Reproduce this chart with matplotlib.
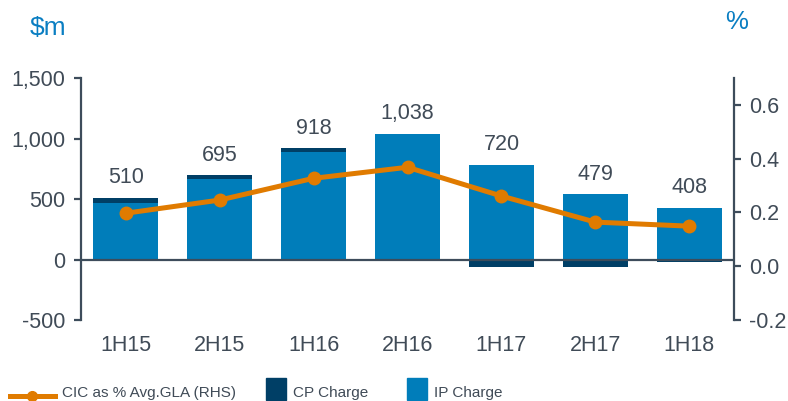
import matplotlib
matplotlib.use("Agg")
import matplotlib.pyplot as plt
from matplotlib.lines import Line2D
from matplotlib.patches import Rectangle
from matplotlib.ticker import FuncFormatter, FixedLocator

plt.rcParams['font.family'] = ['Liberation Sans', 'DejaVu Sans']

# Half-year periods
periods = ["1H15", "2H15", "1H16", "2H16", "1H17", "2H17", "1H18"]
# Total capitalised interest ($m), shown above each bar
totals = [510, 695, 918, 1038, 720, 479, 408]
# CP charge component ($m)
cp_charge = [45, 33, 33, 0, -60, -60, -18]
# IP charge component ($m)
ip_charge = [465, 662, 885, 1038, 780, 539, 426]
# CIC as % of average GLA (right-hand scale)
cic_pct = [0.197, 0.246, 0.327, 0.368, 0.261, 0.164, 0.149]

left_ticks = [-500, 0, 500, 1000, 1500]
right_ticks = [-0.2, 0.0, 0.2, 0.4, 0.6]

IP_BLUE = "#007DBA"
CP_NAVY = "#003F66"
ORANGE = "#E07B00"
AXIS = "#3D4C5B"
TEXT = "#404B57"
TITLE_BLUE = "#0A7EC2"

FS = 15.5

fig = plt.figure(figsize=(7.88, 4.01), dpi=100)
ax = fig.add_axes([81 / 788, 1 - 320 / 401, (734 - 81) / 788, (320 - 78) / 401])

x = list(range(len(periods)))
width = 0.69

ax.bar(x, ip_charge, width, color=IP_BLUE, zorder=2)
cp_bottom = [ip if cp > 0 else 0 for ip, cp in zip(ip_charge, cp_charge)]
ax.bar(x, cp_charge, width, bottom=cp_bottom, color=CP_NAVY, zorder=2)

ax.axhline(0, color=AXIS, lw=1.6, zorder=3)

for xi, ip, cp, tot in zip(x, ip_charge, cp_charge, totals):
    top = ip + max(cp, 0)
    ax.annotate(f"{tot:,}", (xi, top), xytext=(0, 7), textcoords="offset points",
                ha="center", va="bottom", fontsize=FS, color=TEXT)

ax.set_xlim(-0.475, len(periods) - 0.525)
ax.set_ylim(-500, 1500)
ax.yaxis.set_major_locator(FixedLocator(left_ticks))
ax.yaxis.set_major_formatter(FuncFormatter(lambda v, p: f"{int(v):,}"))
ax.set_xticks(x)
ax.set_xticklabels(periods)
ax.tick_params(axis="x", length=0, pad=11, labelsize=FS, labelcolor=TEXT)
ax.tick_params(axis="y", length=5, width=1.6, color=AXIS, pad=6,
               labelsize=FS, labelcolor=TEXT)
for side in ("top", "right", "bottom"):
    ax.spines[side].set_visible(False)
ax.spines["left"].set_color(AXIS)
ax.spines["left"].set_linewidth(1.6)

ax2 = ax.twinx()
ax2.plot(x, cic_pct, color=ORANGE, lw=3.6, marker="o", markersize=9,
         solid_capstyle="round", zorder=4)
ax2.set_ylim(-0.2, 0.7)
ax2.yaxis.set_major_locator(FixedLocator(right_ticks))
ax2.yaxis.set_major_formatter(FuncFormatter(lambda v, p: f"{v:.1f}"))
ax2.tick_params(axis="y", length=5, width=1.6, color=AXIS, pad=6,
                labelsize=FS, labelcolor=TEXT)
for side in ("top", "left", "bottom"):
    ax2.spines[side].set_visible(False)
ax2.spines["right"].set_color(AXIS)
ax2.spines["right"].set_linewidth(1.6)

# Axis unit captions
fig.text(30 / 788, 1 - 28 / 401, "$m", fontsize=19, color=TITLE_BLUE,
         ha="left", va="center")
fig.text(737 / 788, 1 - 22 / 401, "%", fontsize=18.5, color=TITLE_BLUE,
         ha="center", va="center")

# Legend along the bottom edge
ly = 1 - 396 / 401
fig.add_artist(Line2D([10 / 788, 55 / 788], [ly, ly], color=ORANGE, lw=3.6,
                      transform=fig.transFigure))
fig.add_artist(Line2D([32 / 788], [ly], color=ORANGE, marker="o", markersize=7,
                      transform=fig.transFigure))
fig.add_artist(Rectangle((266 / 788, 1 - 400 / 401), 20 / 788, 22 / 401,
                         color=CP_NAVY, transform=fig.transFigure))
fig.add_artist(Rectangle((407 / 788, 1 - 400 / 401), 20 / 788, 22 / 401,
                         color=IP_BLUE, transform=fig.transFigure))
for tx, label in [(62, "CIC as % Avg.GLA (RHS)"), (293, "CP Charge"), (434, "IP Charge")]:
    fig.text(tx / 788, 1 - 397 / 401, label, fontsize=11, color=TEXT,
             ha="left", va="baseline")

fig.savefig("out.png", dpi=100)
